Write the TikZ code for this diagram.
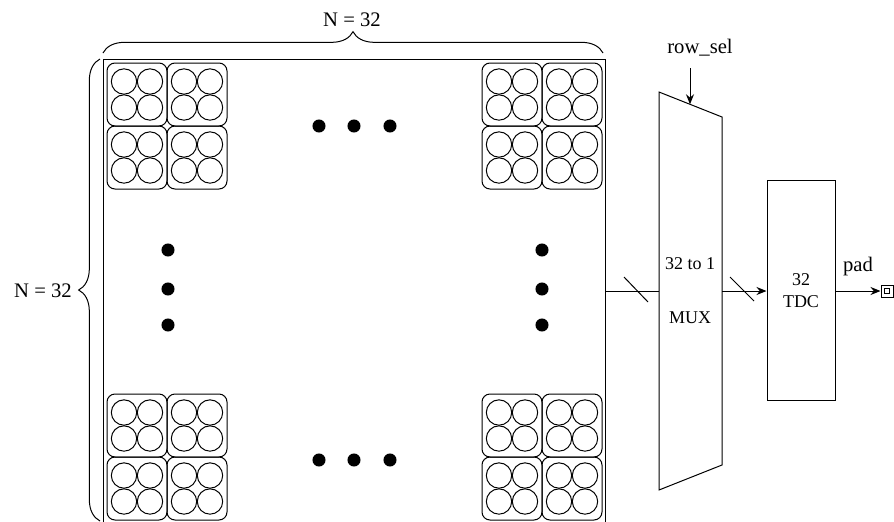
\documentclass[tikz,border=0pt]{standalone}
\usepackage{fontspec}
\setmainfont{Liberation Serif}
\usetikzlibrary{decorations.pathreplacing,arrows.meta}
\begin{document}
\begin{tikzpicture}[x=0.75pt,y=-0.75pt,line width=0.75pt,
  lbl/.style={font=\fontsize{15.5}{18}\selectfont,inner sep=0pt},
  slbl/.style={font=\fontsize{13.5}{16}\selectfont,inner sep=0pt},
  dotc/.style={fill=black},
  bracestyle/.style={decorate,decoration={brace,amplitude=16pt}},
  arr/.style={-{Stealth[length=7.5pt,width=6pt]}},
  pixblock/.pic={
    \draw[rounded corners=6pt] (-30,-31.5) rectangle (30,31.5);
    \foreach \dx in {-13,13} \foreach \dy in {-13,13} \draw (\dx,\dy) circle[radius=9.5pt];
  }]
\useasboundingbox (0,0) rectangle (894,522);
% array outline
\draw (103,530) -- (103,59) -- (605,59) -- (605,530);
\coordinate (arrE) at (605,291);
% pixel blocks
\foreach \gx in {137,512} \foreach \gy in {94.5,425.5} {
  \foreach \bx in {0,60} \foreach \by in {0,63}
    \pic at (\gx+\bx,\gy+\by) {pixblock};
}
% dots
\foreach \x in {319,354,390} {
  \fill[dotc] (\x,126) circle[radius=4.9pt];
  \fill[dotc] (\x,460) circle[radius=4.9pt];
}
\foreach \y in {250,289,325} {
  \fill[dotc] (168,\y) circle[radius=4.9pt];
  \fill[dotc] (542,\y) circle[radius=4.9pt];
}
% braces
\draw[bracestyle] (103,53) -- (603,53);
\node[lbl] (ntop) at (352,20) {N = 32};
\draw[bracestyle] (100,521) -- (100,59);
\node[lbl] (nleft) at (43,291) {N = 32};
% MUX
\draw (659,92) -- (722,117) -- (722,465) -- (659,490) -- cycle;
\coordinate (muxW) at (659,291);
\coordinate (muxE) at (722,291);
\coordinate (muxN) at (690,104.3);
\node[slbl] (mux1) at (690,264) {32 to 1};
\node[slbl] (mux2) at (690,318) {MUX};
\node[lbl] (rowsel) at (700,48) {row\_sel};
\coordinate (rsTop) at (690,68);
\draw[arr] (rsTop) -- (muxN);
% TDC
\node[draw,minimum width=51pt,minimum height=165pt,inner sep=0pt] (tdc) at (801,290) {};
\node[slbl] (tdc1) at (801,280) {32};
\node[slbl] (tdc2) at (801,302) {TDC};
% pad
\node[draw,minimum size=9pt,inner sep=0pt] (pad) at (887,291) {};
\node[draw,minimum size=4pt,inner sep=0pt] (padin) at (pad.center) {};
\node[lbl] (padlbl) at (858,267) {pad};
% connectors
\draw (arrE) -- (muxW);
\draw (624,277) -- (648,302);
\draw[arr] (muxE) -- (tdc.west |- muxE);
\draw (730,277) -- (754,301);
\draw[arr] (tdc.east |- pad.west) -- (pad.west);
\end{tikzpicture}
\end{document}
